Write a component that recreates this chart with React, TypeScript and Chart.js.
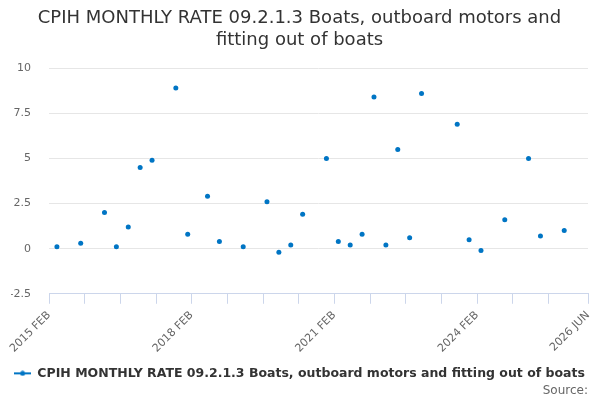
import { useEffect, useRef } from "react";
import { Chart, registerables } from "chart.js";

Chart.register(...registerables);

const MONTHS = ["JAN", "FEB", "MAR", "APR", "MAY", "JUN", "JUL", "AUG", "SEP", "OCT", "NOV", "DEC"];

// monthly categories, 2015 FEB .. 2026 JUN
const categories: string[] = [];
for (let i = 1; i <= 137; i++) {
  categories.push(`${2015 + Math.floor(i / 12)} ${MONTHS[i % 12]}`);
}

const pointDates = [
  "2015 APR", "2015 OCT", "2016 APR", "2016 JUL", "2016 OCT", "2017 JAN", "2017 APR", "2017 OCT",
  "2018 JAN", "2018 JUN", "2018 SEP", "2019 MAR", "2019 SEP", "2019 DEC", "2020 MAR", "2020 JUN",
  "2020 DEC", "2021 MAR", "2021 JUN", "2021 SEP", "2021 DEC", "2022 MAR", "2022 JUN", "2022 SEP",
  "2022 DEC", "2023 SEP", "2023 DEC", "2024 MAR", "2024 SEP", "2025 MAR", "2025 JUN", "2025 DEC",
];

const pointValues = [
  0.1, 0.3, 2.0, 0.1, 1.2, 4.5, 4.9, 8.9,
  0.8, 2.9, 0.4, 0.1, 2.6, -0.2, 0.2, 1.9,
  5.0, 0.4, 0.2, 0.8, 8.4, 0.2, 5.5, 0.6,
  8.6, 6.9, 0.5, -0.1, 1.6, 5.0, 0.7, 1.0,
];

const seriesName = "CPIH MONTHLY RATE 09.2.1.3 Boats, outboard motors and fitting out of boats";
const titleLines = ["CPIH MONTHLY RATE 09.2.1.3 Boats, outboard motors and", "fitting out of boats"];
const BLUE = "#0075c4";
const FONT = "'DejaVu Sans', sans-serif";

function legendMarker() {
  const c = document.createElement("canvas");
  c.width = 17;
  c.height = 6;
  const g = c.getContext("2d");
  if (g) {
    g.strokeStyle = BLUE;
    g.lineWidth = 2;
    g.beginPath();
    g.moveTo(0, 3);
    g.lineTo(17, 3);
    g.stroke();
    g.fillStyle = BLUE;
    g.beginPath();
    g.arc(8.5, 3, 2.5, 0, Math.PI * 2);
    g.fill();
  }
  return c;
}

export default function App() {
  const canvasRef = useRef<HTMLCanvasElement>(null);
  const chartRef = useRef<Chart | null>(null);

  useEffect(() => {
    document.body.style.margin = "0";
    if (!canvasRef.current) return;
    const ctx = canvasRef.current.getContext("2d");
    if (!ctx) return;

    const last = categories.length - 1;

    chartRef.current = new Chart(ctx, {
      type: "line",
      data: {
        labels: categories,
        datasets: [
          {
            label: seriesName,
            data: pointDates.map((d, i) => ({ x: d, y: pointValues[i] })),
            showLine: false,
            borderColor: BLUE,
            backgroundColor: BLUE,
            pointRadius: 2.5,
            pointBorderWidth: 0,
            pointStyle: "circle",
          },
        ],
      },
      options: {
        animation: false,
        responsive: true,
        maintainAspectRatio: false,
        layout: { padding: { left: 11, right: 12, bottom: 2 } },
        plugins: {
          title: {
            display: true,
            text: titleLines,
            color: "#333333",
            font: { family: FONT, size: 18, weight: "normal", lineHeight: 1.2 },
            padding: { top: 8, bottom: 17 },
          },
          subtitle: {
            display: true,
            text: "Source:",
            position: "bottom",
            align: "end",
            color: "#666666",
            font: { family: FONT, size: 12, weight: "normal" },
            padding: { top: -6, bottom: 0 },
          },
          legend: {
            position: "bottom",
            labels: {
              usePointStyle: true,
              pointStyle: legendMarker(),
              pointStyleWidth: 17,
              color: "#333333",
              font: { family: FONT, size: 12.5, weight: "bold" },
              padding: 5,
            },
          },
          tooltip: { enabled: false },
        },
        scales: {
          x: {
            type: "category",
            offset: false,
            border: { display: true, color: "#ccd6eb", width: 1 },
            grid: {
              drawOnChartArea: false,
              drawTicks: true,
              tickLength: 10,
              tickColor: "#ccd6eb",
            },
            afterFit: (scale) => {
              scale.paddingLeft = 0;
              scale.paddingRight = 0;
              scale.height += 2;
            },
            ticks: {
              autoSkip: false,
              maxRotation: 45,
              minRotation: 45,
              color: "#666666",
              font: { family: FONT, size: 11 },
              padding: 5,
              callback: (_v, index) => {
                if (index === last || index % 36 === 0) return categories[index];
                if (index % 9 === 0 && index < last - 5) return "";
                return null;
              },
            },
          },
          y: {
            min: -2.5,
            max: 10,
            border: { display: false },
            grid: { color: "#e6e6e6", drawTicks: false },
            afterFit: (scale) => {
              scale.width = 38;
            },
            ticks: {
              stepSize: 2.5,
              color: "#666666",
              font: { family: FONT, size: 11 },
              padding: 18,
            },
          },
        },
      },
    });

    return () => {
      if (chartRef.current) {
        chartRef.current.destroy();
        chartRef.current = null;
      }
    };
  }, []);

  return (
    <div style={{ position: "absolute", left: 0, top: 0, width: 600, height: 400 }}>
      <canvas ref={canvasRef}></canvas>
    </div>
  );
}
